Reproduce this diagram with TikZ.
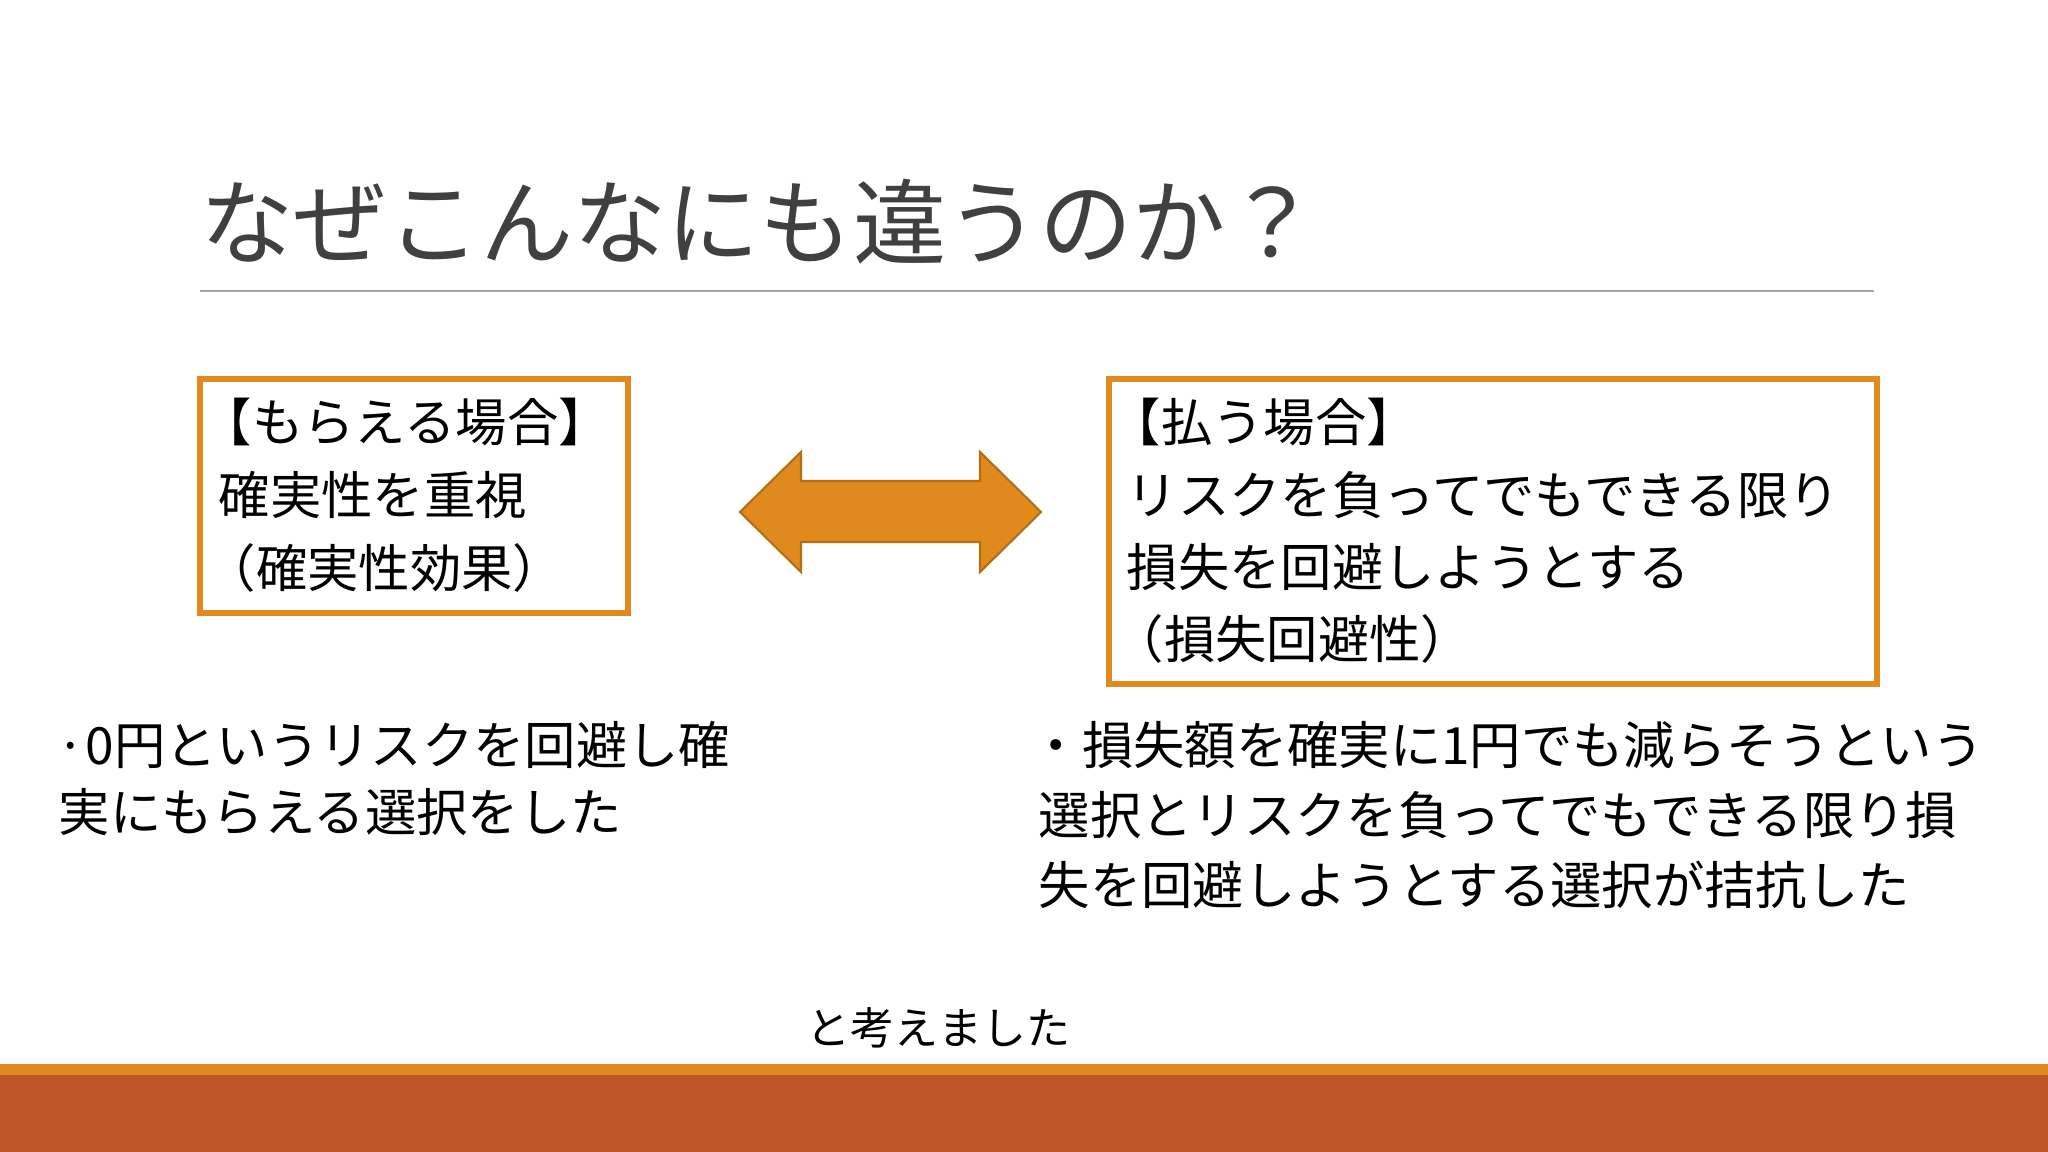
\documentclass[tikz,border=0pt]{standalone}
\usepackage{fontspec}
\setmainfont{Noto Sans CJK JP}
\definecolor{orng}{HTML}{E08A1E}
\definecolor{rust}{HTML}{BF5628}
\definecolor{ttl}{HTML}{404040}
\begin{document}
\begin{tikzpicture}[x=0.01cm,y=-0.01cm,
  box/.style={draw=orng,line width=1.6pt},
  big/.style={anchor=west,inner sep=0pt,font=\fontsize{14.6}{18}\selectfont},
  small/.style={anchor=west,inner sep=0pt,font=\fontsize{12.5}{15}\selectfont}]
\useasboundingbox (0,0) rectangle (2048,1152);
\fill[white] (0,0) rectangle (2048,1152);
\node[anchor=west,inner sep=0pt,text=ttl,font=\fontsize{26.5}{30}\selectfont] (title) at (200,222) {なぜこんなにも違うのか？};
\draw[gray!70,line width=0.6pt] (200,291) -- (1874,291);
\draw[box] (200,379) rectangle (628,613);
\node[big] (l1) at (200,422) {【もらえる場合】};
\node[big] (l2) at (218,495) {確実性を重視};
\node[big] (l3) at (204,568) {（確実性効果）};
\draw[box] (1109,379) rectangle (1877,684);
\node[big] (r1) at (1109,422) {【払う場合】};
\node[big] (r2) at (1126,495) {リスクを負ってでもできる限り};
\node[big] (r3) at (1126,567) {損失を回避しようとする};
\node[big] (r4) at (1112,639) {（損失回避性）};
\fill[orng,draw=orng!80!black,line width=0.6pt] (740,512) -- (801,452) -- (801,481) -- (980,481) -- (980,452) -- (1041,512) -- (980,572) -- (980,542) -- (801,542) -- (801,572) -- cycle;
\node[big] (b1) at (56,745) {·0円というリスクを回避し確};
\node[big] (b2) at (58,812) {実にもらえる選択をした};
\node[big] (c1) at (1030,745) {・損失額を確実に1円でも減らそうという};
\node[big] (c2) at (1038,815) {選択とリスクを負ってでもできる限り損};
\node[big] (c3) at (1038,885) {失を回避しようとする選択が拮抗した};
\node[small] (end) at (806,1028) {と考えました};
\fill[orng] (0,1064) rectangle (2048,1075);
\fill[rust] (0,1075) rectangle (2048,1152);
\end{tikzpicture}
\end{document}
